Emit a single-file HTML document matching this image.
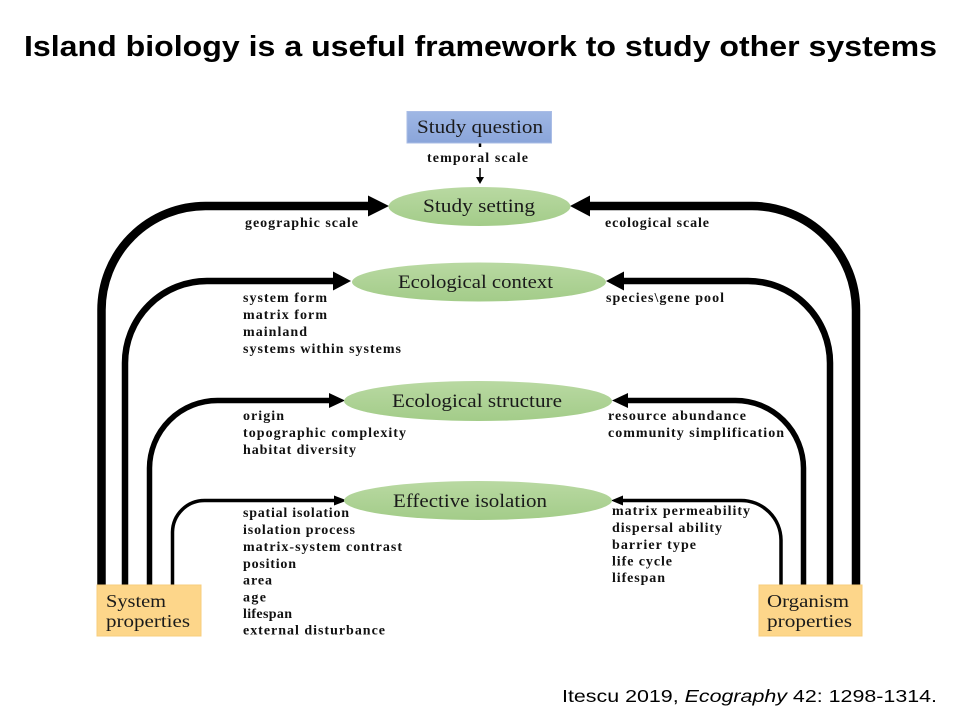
<!DOCTYPE html>
<html><head><meta charset="utf-8"><style>
html,body{margin:0;padding:0;background:#fff;}
svg{display:block;}
.lb{font-family:"Liberation Serif",serif;font-weight:bold;font-size:14px;fill:#111;}
.el{font-family:"Liberation Serif",serif;font-size:19px;fill:#1a1a1a;}
.bx{font-family:"Liberation Serif",serif;font-size:18px;fill:#1a1a1a;}
</style></head><body>
<svg width="960" height="720" viewBox="0 0 960 720" xmlns="http://www.w3.org/2000/svg">
<rect width="960" height="720" fill="#fff"/>
<text x="24" y="56" font-family="Liberation Sans, sans-serif" font-weight="bold" font-size="29" textLength="913" lengthAdjust="spacingAndGlyphs" fill="#000">Island biology is a useful framework to study other systems</text>
<text x="562" y="702" font-family="Liberation Sans, sans-serif" font-size="17.5" textLength="375" lengthAdjust="spacingAndGlyphs" fill="#000">Itescu 2019, <tspan font-style="italic">Ecography</tspan> 42: 1298-1314.</text>

<defs>
<linearGradient id="g" x1="0" y1="0" x2="0" y2="1">
<stop offset="0" stop-color="#b9d9a2"/><stop offset="1" stop-color="#a3cc89"/>
</linearGradient>
<linearGradient id="b" x1="0" y1="0" x2="0" y2="1">
<stop offset="0" stop-color="#9fb7e4"/><stop offset="1" stop-color="#8aa5da"/>
</linearGradient>
</defs>

<!-- connectors left -->
<g fill="none" stroke="#000" stroke-linecap="butt">
<path d="M101.5,586 V310 A104,104 0 0 1 205.5,206 H372" stroke-width="8.5"/>
<path d="M125,586 V363 A82,82 0 0 1 207,281 H335" stroke-width="6.5"/>
<path d="M149.5,586 V468 A68,68 0 0 1 217.5,400.5 H331" stroke-width="5.5"/>
<path d="M172.5,586 V532 A32,32 0 0 1 204.5,500.5 H336" stroke-width="3.5"/>
<!-- right -->
<path d="M856,586 V310 A104,104 0 0 0 752,206 H588" stroke-width="8.5"/>
<path d="M830,586 V363 A82,82 0 0 0 748,281 H622" stroke-width="6.5"/>
<path d="M803.5,586 V468 A68,68 0 0 0 735.5,400.5 H626" stroke-width="5.5"/>
<path d="M781,586 V540 A40,40 0 0 0 741,500.5 H621" stroke-width="3.5"/>
<!-- temporal -->
<path d="M480,143 V147" stroke-width="2.5"/>
<path d="M480,168 V178" stroke-width="1.5"/>
</g>
<g fill="#000">
<polygon points="368,195.5 389,206 368,216.5"/>
<polygon points="333,271.5 351,281 333,290.5"/>
<polygon points="329,393 345,400.5 329,408"/>
<polygon points="334,495.5 347,500.5 334,505.5"/>
<polygon points="590,195.5 570,206 590,216.5"/>
<polygon points="624,271.5 606,281 624,290.5"/>
<polygon points="628,393 612,400.5 628,408"/>
<polygon points="623,495.5 611,500.5 623,505.5"/>
<polygon points="476,177 484,177 480,184"/>
</g>

<!-- study question -->
<rect x="407" y="111.5" width="144.5" height="31.5" fill="url(#b)" stroke="#aabde6" stroke-width="1"/>
<text x="417" y="133" class="el" font-size="18" textLength="126" lengthAdjust="spacingAndGlyphs">Study question</text>
<text x="427" y="162" class="lb" font-size="13" textLength="101">temporal scale</text>

<!-- ellipses -->
<ellipse cx="479.5" cy="206.5" rx="91" ry="19.5" fill="url(#g)"/>
<text x="423" y="212" class="el" textLength="112" lengthAdjust="spacingAndGlyphs">Study setting</text>
<ellipse cx="479" cy="282" rx="127" ry="19.5" fill="url(#g)"/>
<text x="398" y="288" class="el" textLength="155" lengthAdjust="spacingAndGlyphs">Ecological context</text>
<ellipse cx="478" cy="401" rx="134" ry="20" fill="url(#g)"/>
<text x="392" y="407" class="el" textLength="170" lengthAdjust="spacingAndGlyphs">Ecological structure</text>
<ellipse cx="478" cy="500.5" rx="134" ry="19.5" fill="url(#g)"/>
<text x="393" y="507" class="el" textLength="154" lengthAdjust="spacingAndGlyphs">Effective isolation</text>

<!-- boxes -->
<rect x="97" y="585" width="104" height="51" fill="#fdd68a" stroke="#f7cd7c" stroke-width="1"/>
<text x="106" y="607" class="bx" textLength="60" lengthAdjust="spacingAndGlyphs">System</text>
<text x="106" y="627" class="bx" textLength="84" lengthAdjust="spacingAndGlyphs">properties</text>
<rect x="759" y="585" width="103" height="51" fill="#fdd68a" stroke="#f7cd7c" stroke-width="1"/>
<text x="767" y="607" class="bx" textLength="82" lengthAdjust="spacingAndGlyphs">Organism</text>
<text x="767" y="627" class="bx" textLength="85" lengthAdjust="spacingAndGlyphs">properties</text>

<!-- labels -->
<text x="245" y="227" class="lb" textLength="113">geographic scale</text>
<text x="605" y="227" class="lb" textLength="104">ecological scale</text>

<text x="243" y="302" class="lb" textLength="84">system form</text>
<text x="243" y="319" class="lb" textLength="84">matrix form</text>
<text x="243" y="336" class="lb" textLength="64">mainland</text>
<text x="243" y="353" class="lb" textLength="158">systems within systems</text>
<text x="606" y="302" class="lb" textLength="118">species\gene pool</text>

<text x="243" y="420" class="lb" textLength="41">origin</text>
<text x="243" y="437" class="lb" textLength="163">topographic complexity</text>
<text x="243" y="454" class="lb" textLength="113">habitat diversity</text>
<text x="608" y="420" class="lb" textLength="138">resource abundance</text>
<text x="608" y="437" class="lb" textLength="176">community simplification</text>

<text x="243" y="517" class="lb" textLength="106">spatial isolation</text>
<text x="243" y="534" class="lb" textLength="112">isolation process</text>
<text x="243" y="551" class="lb" textLength="159">matrix-system contrast</text>
<text x="243" y="568" class="lb" textLength="53">position</text>
<text x="243" y="584.5" class="lb" textLength="29">area</text>
<text x="243" y="601.5" class="lb" textLength="23">age</text>
<text x="243" y="618" class="lb" textLength="49">lifespan</text>
<text x="243" y="634.5" class="lb" textLength="142">external disturbance</text>

<text x="612" y="515" class="lb" textLength="138">matrix permeability</text>
<text x="612" y="532" class="lb" textLength="110">dispersal ability</text>
<text x="612" y="549" class="lb" textLength="84">barrier type</text>
<text x="612" y="565.5" class="lb" textLength="60">life cycle</text>
<text x="612" y="582" class="lb" textLength="53">lifespan</text>
</svg>
</body></html>
